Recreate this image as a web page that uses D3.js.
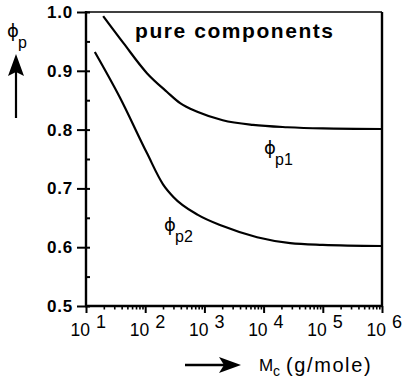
<!DOCTYPE html>
<html>
<head>
<meta charset="utf-8">
<script src="https://cdn.jsdelivr.net/npm/d3@7"></script>
<style>
  body { margin: 0; background: #fff; }
  svg { display: block; font-family: "Liberation Sans", Arial, sans-serif; }
</style>
</head>
<body>
<svg id="chart" width="402" height="381"></svg>
<script>
// pure components: phi_p vs Mc
const mcP1 = [19.5, 43, 107, 234, 389, 776, 2040, 6600, 25000, 1e5, 1e6];
const phiP1 = [0.993, 0.947, 0.896, 0.864, 0.845, 0.830, 0.816, 0.808, 0.804, 0.802, 0.801];

const mcP2 = [14.1, 37.2, 107, 200, 302, 776, 2040, 7760, 28200, 1e5, 1e6];
const phiP2 = [0.932, 0.855, 0.760, 0.707, 0.685, 0.655, 0.636, 0.617, 0.607, 0.604, 0.602];

const yTicks = [0.5, 0.6, 0.7, 0.8, 0.9, 1.0];
const yMinor = [0.5, 0.55, 0.6, 0.65, 0.7, 0.75, 0.8, 0.85, 0.9, 0.95, 1.0];
const xDecades = [1, 2, 3, 4, 5, 6];

const svg = d3.select("#chart");
const pl = 86, pr = 382, pt = 12, pb = 306;

const x = d3.scaleLog().domain([10, 1e6]).range([pl, pr]);
const y = d3.scaleLinear().domain([0.5, 1.0]).range([pb, pt]);

// y axis: outer major ticks with labels
const yAx = svg.append("g")
  .attr("transform", "translate(" + pl + ",0)")
  .call(d3.axisLeft(y).tickValues(yTicks).tickSize(9).tickPadding(4).tickFormat(d3.format(".1f")));
yAx.select(".domain").remove();
yAx.selectAll("line").attr("stroke", "#000").attr("stroke-width", 2);
yAx.selectAll("text")
  .attr("font-size", 17).attr("font-weight", "bold").attr("fill", "#000")
  .attr("font-family", "Liberation Sans, Arial, sans-serif")
  .attr("letter-spacing", 0.8);

// y axis: inner small ticks
const yIn = svg.append("g")
  .attr("transform", "translate(" + pl + ",0)")
  .call(d3.axisRight(y).tickValues(yMinor).tickSize(4).tickFormat(""));
yIn.select(".domain").remove();
yIn.selectAll("line").attr("stroke", "#000").attr("stroke-width", 2);

// x axis: decade ticks
const xAx = svg.append("g")
  .attr("transform", "translate(0," + pb + ")")
  .call(d3.axisBottom(x).tickValues(xDecades.map(d => Math.pow(10, d))).tickSize(7).tickFormat(""));
xAx.select(".domain").remove();
xAx.selectAll("line").attr("stroke", "#000").attr("stroke-width", 2);

// x axis: minor ticks
const minorVals = [];
xDecades.slice(0, -1).forEach(d => {
  for (let k = 2; k <= 9; k++) minorVals.push(k * Math.pow(10, d));
});
const xMin = svg.append("g")
  .attr("transform", "translate(0," + pb + ")")
  .call(d3.axisBottom(x).tickValues(minorVals).tickSize(3.5).tickFormat(""));
xMin.select(".domain").remove();
xMin.selectAll("line").attr("stroke", "#000").attr("stroke-width", 1.6);

// decade labels 10^n
const xl = svg.append("g").attr("font-size", 17.5).attr("fill", "#000");
xDecades.forEach(d => {
  const px = x(Math.pow(10, d));
  xl.append("text").attr("x", px + 4).attr("y", 336).attr("text-anchor", "end").text("10");
  xl.append("text").attr("x", px + 10).attr("y", 328).attr("font-size", 18).text(d);
});

// frame
svg.append("line").attr("x1", pl).attr("x2", pr).attr("y1", pt).attr("y2", pt)
  .attr("stroke", "#000").attr("stroke-width", 1.5);
svg.append("line").attr("x1", pr).attr("x2", pr).attr("y1", pt).attr("y2", pb)
  .attr("stroke", "#000").attr("stroke-width", 2.4);
svg.append("line").attr("x1", pl).attr("x2", pl).attr("y1", pt - 1).attr("y2", pb + 1)
  .attr("stroke", "#000").attr("stroke-width", 2.4);
svg.append("line").attr("x1", pl - 1).attr("x2", pr + 1).attr("y1", pb).attr("y2", pb)
  .attr("stroke", "#000").attr("stroke-width", 2.4);

// curves
const line = d3.line().x(d => x(d[0])).y(d => y(d[1])).curve(d3.curveMonotoneX);
[[mcP1, phiP1], [mcP2, phiP2]].forEach(([mc, phi]) => {
  svg.append("path")
    .datum(mc.map((m, i) => [m, phi[i]]))
    .attr("d", line)
    .attr("fill", "none")
    .attr("stroke", "#000")
    .attr("stroke-width", 2.2);
});

// labels
svg.append("text").attr("x", 135).attr("y", 38)
  .attr("font-size", 21).attr("font-weight", "bold")
  .attr("textLength", 198).attr("lengthAdjust", "spacing")
  .text("pure  components");

function phiLabel(px, py, sub) {
  const g = svg.append("g");
  g.append("text").attr("x", px).attr("y", py)
    .attr("font-family", "DejaVu Sans, sans-serif").attr("font-size", 18).text("ϕ");
  g.append("text").attr("x", px + 11).attr("y", py + 11).attr("font-size", 16).text(sub);
}
phiLabel(264, 154, "p1");
phiLabel(164, 231, "p2");
phiLabel(7, 37, "p");

// up arrow at y label
svg.append("line").attr("x1", 16).attr("x2", 16).attr("y1", 70).attr("y2", 118)
  .attr("stroke", "#000").attr("stroke-width", 2.2);
svg.append("path").attr("d", "M16,54 L24,76 L16,72 L8,76 Z").attr("fill", "#000");

// right arrow at x label
svg.append("line").attr("x1", 185).attr("x2", 232).attr("y1", 365).attr("y2", 365)
  .attr("stroke", "#000").attr("stroke-width", 2.6);
svg.append("path").attr("d", "M241,365 L219,357 L224,365 L219,373 Z").attr("fill", "#000");

const xt = svg.append("text").attr("y", 371).attr("font-size", 17);
xt.append("tspan").attr("x", 259).text("M");
xt.append("tspan").attr("x", 273).attr("dy", 5).attr("font-size", 14).text("c");
svg.append("text").attr("x", 286).attr("y", 372).attr("font-size", 20)
  .attr("letter-spacing", 1.6).text("(g/mole)");
</script>
</body>
</html>
